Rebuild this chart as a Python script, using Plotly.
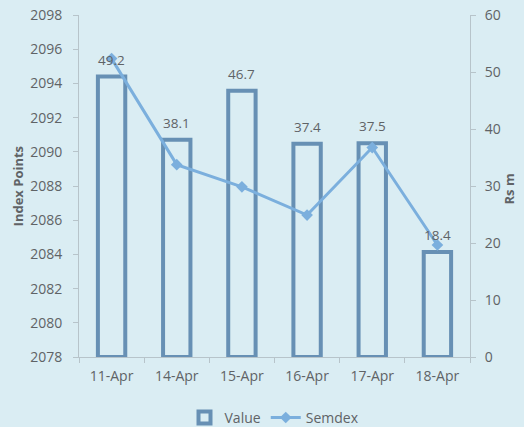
import plotly.graph_objects as go

dates = ["11-Apr", "14-Apr", "15-Apr", "16-Apr", "17-Apr", "18-Apr"]
value_rs_m = [49.2, 38.1, 46.7, 37.4, 37.5, 18.4]
semdex = [2095.45, 2089.25, 2087.95, 2086.3, 2090.25, 2084.55]

bg = "#daedf3"
grey = "#5f6366"
axis_col = "#b7c4ca"
bar_col = "#6790b4"
line_col = "#7bafdd"
font_fam = "Open Sans, Liberation Sans, sans-serif"

fig = go.Figure()
fig.add_trace(go.Bar(
    x=dates, y=value_rs_m, name="Value", yaxis="y",
    marker=dict(color="rgba(0,0,0,0)", line=dict(color=bar_col, width=4)),
    width=0.42,
))
fig.add_trace(go.Scatter(
    x=dates, y=semdex, name="Semdex", yaxis="y2", mode="lines+markers",
    line=dict(color=line_col, width=3),
    marker=dict(symbol="diamond", size=9, color=line_col),
))

annotations = [
    dict(x=d, y=v, xref="x", yref="y", text=f"{v:.1f}", showarrow=False,
         yanchor="bottom", yshift=6, font=dict(size=13.5, color=grey))
    for d, v in zip(dates, value_rs_m)
]
annotations.append(dict(x=-0.155, y=0.5, xref="paper", yref="paper", text="<b>Index Points</b>",
                        textangle=-90, showarrow=False, xanchor="center", yanchor="middle",
                        font=dict(size=13, color=grey)))
annotations.append(dict(x=1.1, y=0.49, xref="paper", yref="paper", text="<b>Rs m</b>",
                        textangle=-90, showarrow=False, xanchor="center", yanchor="middle",
                        font=dict(size=13, color=grey)))

fig.update_layout(
    width=524, height=427,
    paper_bgcolor=bg, plot_bgcolor=bg,
    margin=dict(l=79, r=54, t=15, b=70, autoexpand=False),
    font=dict(family=font_fam, color=grey, size=13),
    showlegend=True,
    legend=dict(orientation="h", x=0.5, xanchor="center", y=-0.178, yanchor="middle",
                font=dict(size=14, color=grey), bgcolor="rgba(0,0,0,0)"),
    annotations=annotations,
    xaxis=dict(
        type="category", showline=True, linecolor=axis_col, linewidth=1,
        ticks="outside", tickson="boundaries", ticklen=5, tickcolor=axis_col,
        tickfont=dict(size=14, color=grey), showgrid=False, zeroline=False,
        automargin=False, ticklabelstandoff=6,
    ),
    yaxis=dict(
        side="right", range=[0, 60], dtick=10, showline=True, linecolor=axis_col,
        ticks="outside", ticklen=5, tickcolor=axis_col, showgrid=False, zeroline=False,
        tickfont=dict(size=14, color=grey), automargin=False, ticklabelstandoff=6,
    ),
    yaxis2=dict(
        overlaying="y", side="left", range=[2078, 2098], dtick=2, showline=True,
        linecolor=axis_col, ticks="outside", ticklen=5, tickcolor=axis_col,
        showgrid=False, zeroline=False, tickfont=dict(size=14, color=grey),
        automargin=False, ticklabelstandoff=8,
    ),
)

fig.write_html("out.html", config={"displayModeBar": False},
               post_script="document.body.style.margin='0';document.body.style.padding='0';")
